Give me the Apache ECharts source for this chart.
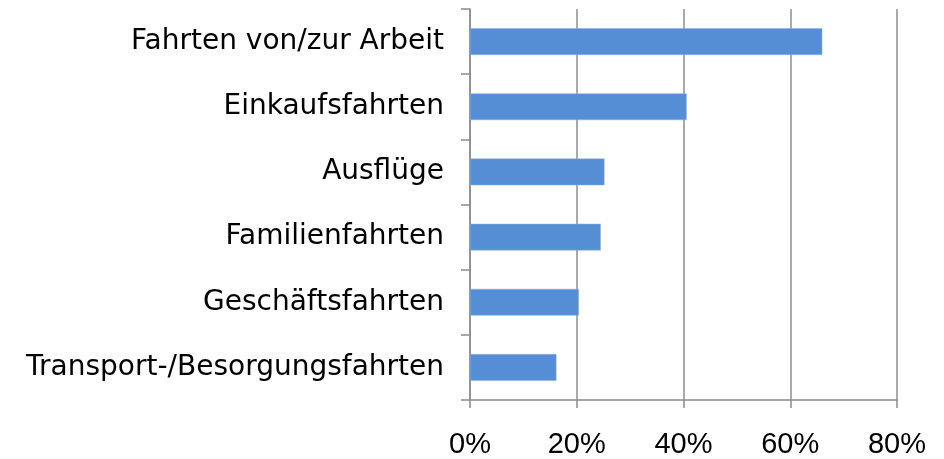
<!DOCTYPE html>
<html>
<head>
<meta charset="utf-8">
<script src="https://cdn.jsdelivr.net/npm/echarts@6/dist/echarts.min.js"></script>
<style>
  html, body { margin: 0; padding: 0; background: #fff; }
  #chart { width: 944px; height: 459px; }
</style>
</head>
<body>
<div id="chart"></div>
<script>
// Kategorien von oben nach unten
var categories = ['Fahrten von/zur Arbeit', 'Einkaufsfahrten', 'Ausflüge', 'Familienfahrten', 'Geschäftsfahrten', 'Transport-/Besorgungsfahrten'];
// Anteile in Prozent
var shares = [66.0, 40.6, 25.2, 24.5, 20.4, 16.2];
var xTicks = [0, 20, 40, 60, 80];

var axisGray = '#8c8c8c';
var chart = echarts.init(document.getElementById('chart'));
chart.setOption({
  animation: false,
  grid: { left: 470, right: 47, top: 9, bottom: 58, containLabel: false },
  xAxis: {
    type: 'value',
    min: xTicks[0],
    max: xTicks[xTicks.length - 1],
    interval: 20,
    axisLine: { show: true, lineStyle: { color: axisGray, width: 1.5 } },
    axisTick: { show: true, length: 8, lineStyle: { color: axisGray, width: 1.5 } },
    splitLine: { show: true, lineStyle: { color: axisGray, width: 1.5 } },
    axisLabel: {
      formatter: '{value}%',
      color: '#000',
      fontFamily: 'Liberation Sans',
      fontSize: 29,
      margin: 30
    }
  },
  yAxis: {
    type: 'category',
    data: categories,
    inverse: true,
    axisLine: { show: true, lineStyle: { color: axisGray, width: 1.5 } },
    axisTick: { show: true, length: 9, lineStyle: { color: axisGray, width: 1.5 } },
    axisLabel: {
      color: '#000',
      fontFamily: 'DejaVu Sans',
      fontSize: 28,
      margin: 26
    }
  },
  series: [{
    type: 'bar',
    data: shares,
    barCategoryGap: '59%',
    itemStyle: { color: '#558ed5', borderColor: '#8db3e2', borderWidth: 0.5 }
  }]
});
</script>
</body>
</html>
